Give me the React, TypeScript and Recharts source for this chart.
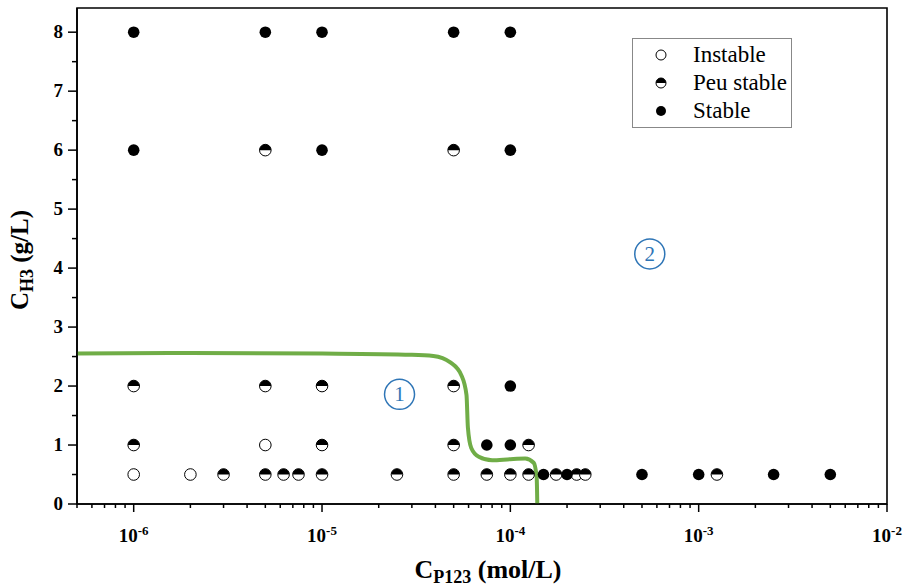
import React from 'react';
import {
  ComposedChart, Scatter, Line, XAxis, YAxis, Legend, ReferenceArea, ReferenceDot, Label,
} from 'recharts';

const instable = [
  { x: 1e-6, y: 0.5 }, { x: 2e-6, y: 0.5 }, { x: 5e-6, y: 1 },
];

const peuStable = [
  { x: 5e-6, y: 6 }, { x: 5e-5, y: 6 },
  { x: 1e-6, y: 2 }, { x: 5e-6, y: 2 }, { x: 1e-5, y: 2 }, { x: 5e-5, y: 2 },
  { x: 1e-6, y: 1 }, { x: 1e-5, y: 1 }, { x: 5e-5, y: 1 }, { x: 1.25e-4, y: 1 },
  { x: 3e-6, y: 0.5 }, { x: 5e-6, y: 0.5 }, { x: 6.25e-6, y: 0.5 }, { x: 7.5e-6, y: 0.5 },
  { x: 1e-5, y: 0.5 }, { x: 2.5e-5, y: 0.5 }, { x: 5e-5, y: 0.5 }, { x: 7.5e-5, y: 0.5 },
  { x: 1e-4, y: 0.5 }, { x: 1.25e-4, y: 0.5 }, { x: 1.75e-4, y: 0.5 }, { x: 2.25e-4, y: 0.5 },
  { x: 2.5e-4, y: 0.5 }, { x: 1.25e-3, y: 0.5 },
];

const stable = [
  { x: 1e-6, y: 8 }, { x: 5e-6, y: 8 }, { x: 1e-5, y: 8 }, { x: 5e-5, y: 8 }, { x: 1e-4, y: 8 },
  { x: 1e-6, y: 6 }, { x: 1e-5, y: 6 }, { x: 1e-4, y: 6 },
  { x: 1e-4, y: 2 },
  { x: 7.5e-5, y: 1 }, { x: 1e-4, y: 1 },
  { x: 1.5e-4, y: 0.5 }, { x: 2e-4, y: 0.5 }, { x: 5e-4, y: 0.5 }, { x: 1e-3, y: 0.5 },
  { x: 2.5e-3, y: 0.5 }, { x: 5e-3, y: 0.5 },
];

// stability boundary drawn by hand
const boundary = [
  { x: 5e-7, y: 2.55 }, { x: 2e-6, y: 2.56 }, { x: 1e-5, y: 2.55 }, { x: 3e-5, y: 2.53 },
  { x: 3.9e-5, y: 2.51 }, { x: 4.8e-5, y: 2.4 }, { x: 5.5e-5, y: 2.18 }, { x: 5.85e-5, y: 1.85 },
  { x: 5.95e-5, y: 1.3 }, { x: 6.2e-5, y: 0.95 }, { x: 6.8e-5, y: 0.8 }, { x: 8e-5, y: 0.74 },
  { x: 1e-4, y: 0.76 }, { x: 1.2e-4, y: 0.77 }, { x: 1.33e-4, y: 0.7 }, { x: 1.38e-4, y: 0.45 },
  { x: 1.39e-4, y: 0 },
];

const zones = [
  { x: 2.58e-5, y: 1.86, label: '1' },
  { x: 5.5e-4, y: 4.24, label: '2' },
];

const decades = [1e-6, 1e-5, 1e-4, 1e-3, 1e-2];
const decadeLabels = ['-6', '-5', '-4', '-3', '-2'];
const minorMultipliers = [2, 3, 4, 5, 6, 7, 8, 9];
const minorDecades = [1e-7, 1e-6, 1e-5, 1e-4, 1e-3];
const xTicks = [
  ...decades,
  ...minorDecades.flatMap((d) => minorMultipliers.map((m) => m * d)).filter((v) => v >= 5e-7 && v <= 1e-2),
].sort((a, b) => a - b);
const yTicks = [0, 0.5, 1, 1.5, 2, 2.5, 3, 3.5, 4, 4.5, 5, 5.5, 6, 6.5, 7, 7.5, 8];

const legendItems = [
  { name: 'Instable', kind: 'open' },
  { name: 'Peu stable', kind: 'half' },
  { name: 'Stable', kind: 'full' },
];

const FONT = 'Liberation Serif';
const GREEN = '#70ad47';
const BLUE = '#2e75b6';
const R = 5.8;

function Marker({ cx, cy, kind, r = R }: any) {
  if (cx == null || cy == null) return null;
  if (kind === 'full') return <circle cx={cx} cy={cy} r={r} fill="#000" />;
  if (kind === 'open') return <circle cx={cx} cy={cy} r={r} fill="#fff" stroke="#000" strokeWidth={1} />;
  return (
    <g>
      <circle cx={cx} cy={cy} r={r} fill="#fff" stroke="#000" strokeWidth={1} />
      <path d={`M${cx - r},${cy} A${r},${r} 0 0 1 ${cx + r},${cy} Z`} fill="#000" />
    </g>
  );
}

function XTick({ x, y, payload }: any) {
  const i = decades.findIndex((d) => Math.abs(d - payload.value) / d < 1e-6);
  const major = i >= 0;
  return (
    <g>
      <line x1={x} x2={x} y1={y} y2={y + (major ? 8 : 4)} stroke="#000" strokeWidth={1.5} />
      {major && (
        <text x={x} y={y + 38} textAnchor="middle" fontFamily={FONT} fontWeight="bold" fontSize={19} fill="#000">
          <tspan>10</tspan>
          <tspan dy={-7} fontSize={13}>{decadeLabels[i]}</tspan>
        </text>
      )}
    </g>
  );
}

function YTick({ x, y, payload }: any) {
  const major = Number.isInteger(payload.value);
  return (
    <g>
      <line x1={x} x2={x - (major ? 9 : 5)} y1={y} y2={y} stroke="#000" strokeWidth={1.5} />
      {major && (
        <text x={x - 14} y={y + 6} textAnchor="end" fontFamily={FONT} fontWeight="bold" fontSize={19} fill="#000">
          {payload.value}
        </text>
      )}
    </g>
  );
}

function ZoneMark({ cx, cy, label }: any) {
  return (
    <g>
      <circle cx={cx} cy={cy} r={15} fill="#fff" stroke={BLUE} strokeWidth={1.5} />
      <text x={cx} y={cy + 7} textAnchor="middle" fontFamily={FONT} fontSize={21} fill={BLUE}>{label}</text>
    </g>
  );
}

function LegendBox() {
  return (
    <div style={{ border: '1px solid #888', background: '#fff', width: 158, padding: '2px 0', fontFamily: FONT, fontSize: 23, lineHeight: '28px' }}>
      {legendItems.map((it) => (
        <div key={it.name} style={{ display: 'flex', alignItems: 'center' }}>
          <svg width={60} height={28}>
            <Marker cx={28} cy={14} r={5} kind={it.kind} />
          </svg>
          <span>{it.name}</span>
        </div>
      ))}
    </div>
  );
}

export default function App() {
  return (
    <div style={{ position: 'absolute', left: 0, top: 0, background: '#fff', fontFamily: FONT }}>
      <ComposedChart width={904} height={586} margin={{ top: 8, right: 17, bottom: 0, left: 0 }}>
        <XAxis
          dataKey="x"
          type="number"
          scale="log"
          domain={[5e-7, 1e-2]}
          allowDataOverflow
          ticks={xTicks}
          interval={0}
          height={82}
          tickSize={0}
          tickMargin={0}
          tickLine={false}
          axisLine={{ stroke: '#000', strokeWidth: 1.6 }}
          tick={<XTick />}
        >
          <Label
            content={({ viewBox }: any) => (
              <text x={viewBox.x + viewBox.width / 2 + 6} y={viewBox.y + 74} textAnchor="middle" fontFamily={FONT} fontWeight="bold" fontSize={26} fill="#000">
                <tspan>C</tspan>
                <tspan dy={5} fontSize={18}>P123</tspan>
                <tspan dy={-5}> (mol/L)</tspan>
              </text>
            )}
          />
        </XAxis>
        <YAxis
          dataKey="y"
          type="number"
          domain={[0, 8.41]}
          allowDataOverflow
          ticks={yTicks}
          interval={0}
          width={77}
          tickSize={0}
          tickMargin={0}
          tickLine={false}
          axisLine={{ stroke: '#000', strokeWidth: 1.6 }}
          tick={<YTick />}
        >
          <Label
            content={({ viewBox }: any) => {
              const cx = viewBox.x + 28;
              const cy = viewBox.y + viewBox.height / 2 + 4;
              return (
                <text x={cx} y={cy} transform={`rotate(-90 ${cx} ${cy})`} textAnchor="middle" fontFamily={FONT} fontWeight="bold" fontSize={25} fill="#000">
                  <tspan>C</tspan>
                  <tspan dy={5} fontSize={18}>H3</tspan>
                  <tspan dy={-5}> (g/L)</tspan>
                </text>
              );
            }}
          />
        </YAxis>
        <ReferenceArea x1={5e-7} x2={1e-2} y1={0} y2={8.41} fill="none" stroke="#000" strokeWidth={1.6} ifOverflow="visible" />
        <Line data={boundary} dataKey="y" type="monotone" stroke={GREEN} strokeWidth={4} dot={false} activeDot={false} isAnimationActive={false} />
        <Scatter data={instable} dataKey="y" shape={(p: any) => <Marker {...p} kind="open" />} isAnimationActive={false} />
        <Scatter data={peuStable} dataKey="y" shape={(p: any) => <Marker {...p} kind="half" />} isAnimationActive={false} />
        <Scatter data={stable} dataKey="y" shape={(p: any) => <Marker {...p} kind="full" />} isAnimationActive={false} />
        {zones.map((z) => (
          <ReferenceDot key={z.label} x={z.x} y={z.y} r={15} shape={(p: any) => <ZoneMark {...p} label={z.label} />} />
        ))}
        <Legend
          layout="vertical"
          align="center"
          verticalAlign="middle"
          content={() => <LegendBox />}
          wrapperStyle={{ left: 632, top: 38, width: 160 }}
        />
      </ComposedChart>
    </div>
  );
}
